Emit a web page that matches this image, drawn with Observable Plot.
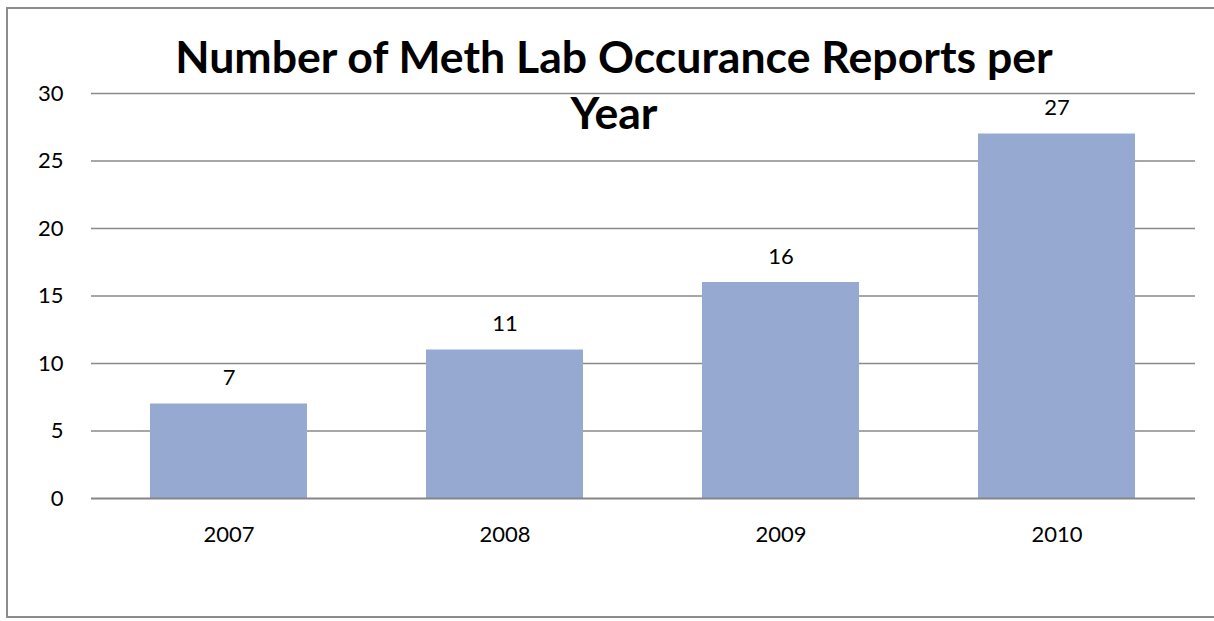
<!DOCTYPE html>
<html>
<head>
<meta charset="utf-8">
<script src="https://cdn.jsdelivr.net/npm/d3@7"></script>
<script src="https://cdn.jsdelivr.net/npm/@observablehq/plot@0.6"></script>
<style>
  html, body { margin: 0; padding: 0; background: #fff; }
  #chart {
    position: relative;
    width: 1214px;
    height: 621px;
    overflow: hidden;
    font-family: Lato, "Open Sans", sans-serif;
  }
  #frame {
    position: absolute;
    left: 6px;
    top: 7px;
    width: 1300px;
    height: 611px;
    border: 2px solid #8c8c8c;
    border-right: none;
    box-sizing: border-box;
  }
  #title {
    position: absolute;
    left: 114px;
    width: 1000px;
    top: 28px;
    text-align: center;
    font-weight: 700;
    font-size: 44.6px;
    line-height: 56px;
    color: #000;
  }
  #plot { position: absolute; left: 0; top: 0; }
</style>
</head>
<body>
<div id="chart">
  <div id="frame"></div>
  <div id="plot"></div>
  <div id="title">Number of Meth Lab Occurance Reports per<br>Year</div>
</div>
<script>
// Reports per year
const years = ["2007", "2008", "2009", "2010"];
const reports = [7, 11, 16, 27];
const yTicks = [0, 5, 10, 15, 20, 25, 30];

const data = years.map((year, i) => ({year, count: reports[i]}));

const chart = Plot.plot({
  width: 1214,
  height: 621,
  marginLeft: 91,
  marginRight: 19,
  marginTop: 93,
  marginBottom: 123,
  style: {fontFamily: "Lato, 'Open Sans', sans-serif", fontSize: "22px", color: "#000", background: "transparent"},
  x: {domain: years, paddingInner: 0.43, paddingOuter: 0.215, label: null},
  y: {domain: [0, 30], label: null},
  marks: [
    Plot.ruleY(yTicks.filter(d => d > 0), {stroke: "#8a8a8a", strokeWidth: 1.5}),
    Plot.barY(data, {x: "year", y: "count", fill: "#95a9d1"}),
    Plot.ruleY([0], {stroke: "#868686", strokeWidth: 2}),
    Plot.text(data, {x: "year", y: "count", text: d => String(d.count), dy: -19, lineAnchor: "bottom", fill: "#000", fontSize: 22}),
    Plot.axisY({ticks: yTicks, tickSize: 0, tickPadding: 28, fontSize: 22, fill: "#000"}),
    Plot.axisX({tickSize: 0, tickPadding: 28, fontSize: 22, fill: "#000"})
  ]
});
document.getElementById("plot").appendChild(chart);
</script>
</body>
</html>
